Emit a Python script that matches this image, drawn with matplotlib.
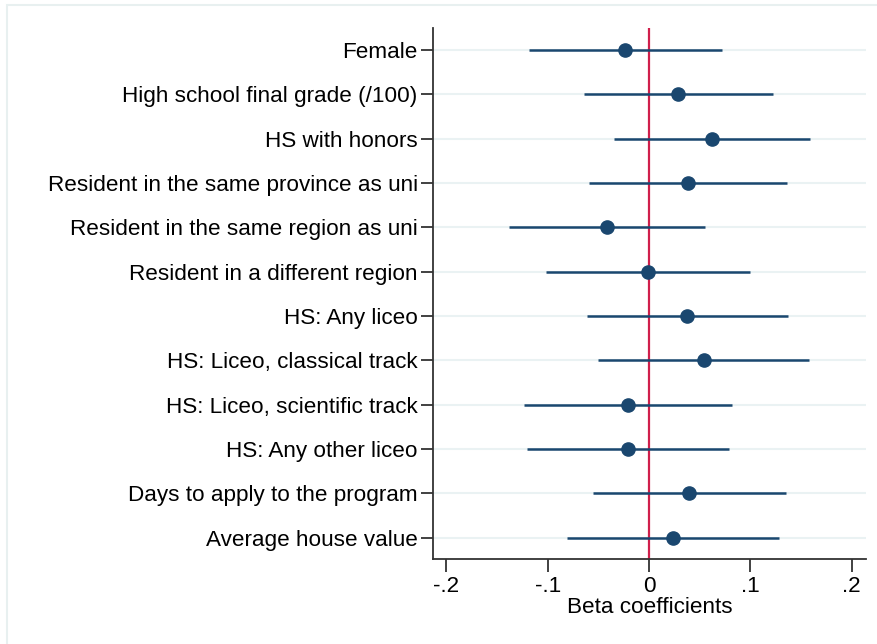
import matplotlib
matplotlib.use("Agg")
import matplotlib.pyplot as plt
from matplotlib.patches import Rectangle

plt.rcParams['font.family'] = ['Liberation Sans', 'DejaVu Sans']

labels = [
    "Female",
    "High school final grade (/100)",
    "HS with honors",
    "Resident in the same province as uni",
    "Resident in the same region as uni",
    "Resident in a different region",
    "HS: Any liceo",
    "HS: Liceo, classical track",
    "HS: Liceo, scientific track",
    "HS: Any other liceo",
    "Days to apply to the program",
    "Average house value",
]
estimates = [-0.0237, 0.0286, 0.0625, 0.0382, -0.0415, -0.0013,
             0.0375, 0.0540, -0.0210, -0.0207, 0.0398, 0.0240]
ci_low = [-0.1185, -0.0642, -0.0342, -0.0596, -0.1379, -0.1020,
          -0.0615, -0.0500, -0.1231, -0.1204, -0.0550, -0.0812]
ci_high = [0.0718, 0.1221, 0.1593, 0.1359, 0.0556, 0.1000,
           0.1369, 0.1582, 0.0816, 0.0790, 0.1349, 0.1283]
xticks = [-0.2, -0.1, 0.0, 0.1, 0.2]
xticklabels = ["-.2", "-.1", "0", ".1", ".2"]

navy = "#1a476f"
grid_c = "#eaf2f3"
red = "#d01f4b"
fs = 16.2

fig = plt.figure(figsize=(8.78, 6.44), dpi=100)
fig.patches.append(Rectangle((7/878, -0.1), 1.2, (644-5)/644 + 0.1,
                             transform=fig.transFigure, fill=False,
                             edgecolor="#e8f0f0", linewidth=1.5))
ax = fig.add_axes([433/878, (644-559)/644, (866-433)/878, (559-28)/644])

n = len(labels)
ypos = list(range(n, 0, -1))

for y in ypos:
    ax.axhline(y, color=grid_c, linewidth=1.5, zorder=0)

ax.axvline(0, color=red, linewidth=1.6, zorder=1)
ax.hlines(ypos, ci_low, ci_high, color=navy, linewidth=1.8, zorder=2)
ax.plot(estimates, ypos, 'o', color=navy, markersize=9.5, zorder=3)

ax.set_xlim(-0.2132, 0.2142)
ax.set_ylim(0.52, n + 0.5)
ax.set_yticks(ypos)
ax.set_yticklabels(labels, fontsize=fs)
ax.set_xticks(xticks)
ax.set_xticklabels(xticklabels, fontsize=fs)
ax.set_xlabel("Beta coefficients", fontsize=fs, labelpad=0)

for s in ['top', 'right']:
    ax.spines[s].set_visible(False)
for s in ['left', 'bottom']:
    ax.spines[s].set_color("#333333")
    ax.spines[s].set_linewidth(1.3)
ax.tick_params(axis='both', length=9, width=1.3, color="#333333", pad=2)
ax.tick_params(axis='x', pad=3)

fig.savefig("out.png", dpi=100)
